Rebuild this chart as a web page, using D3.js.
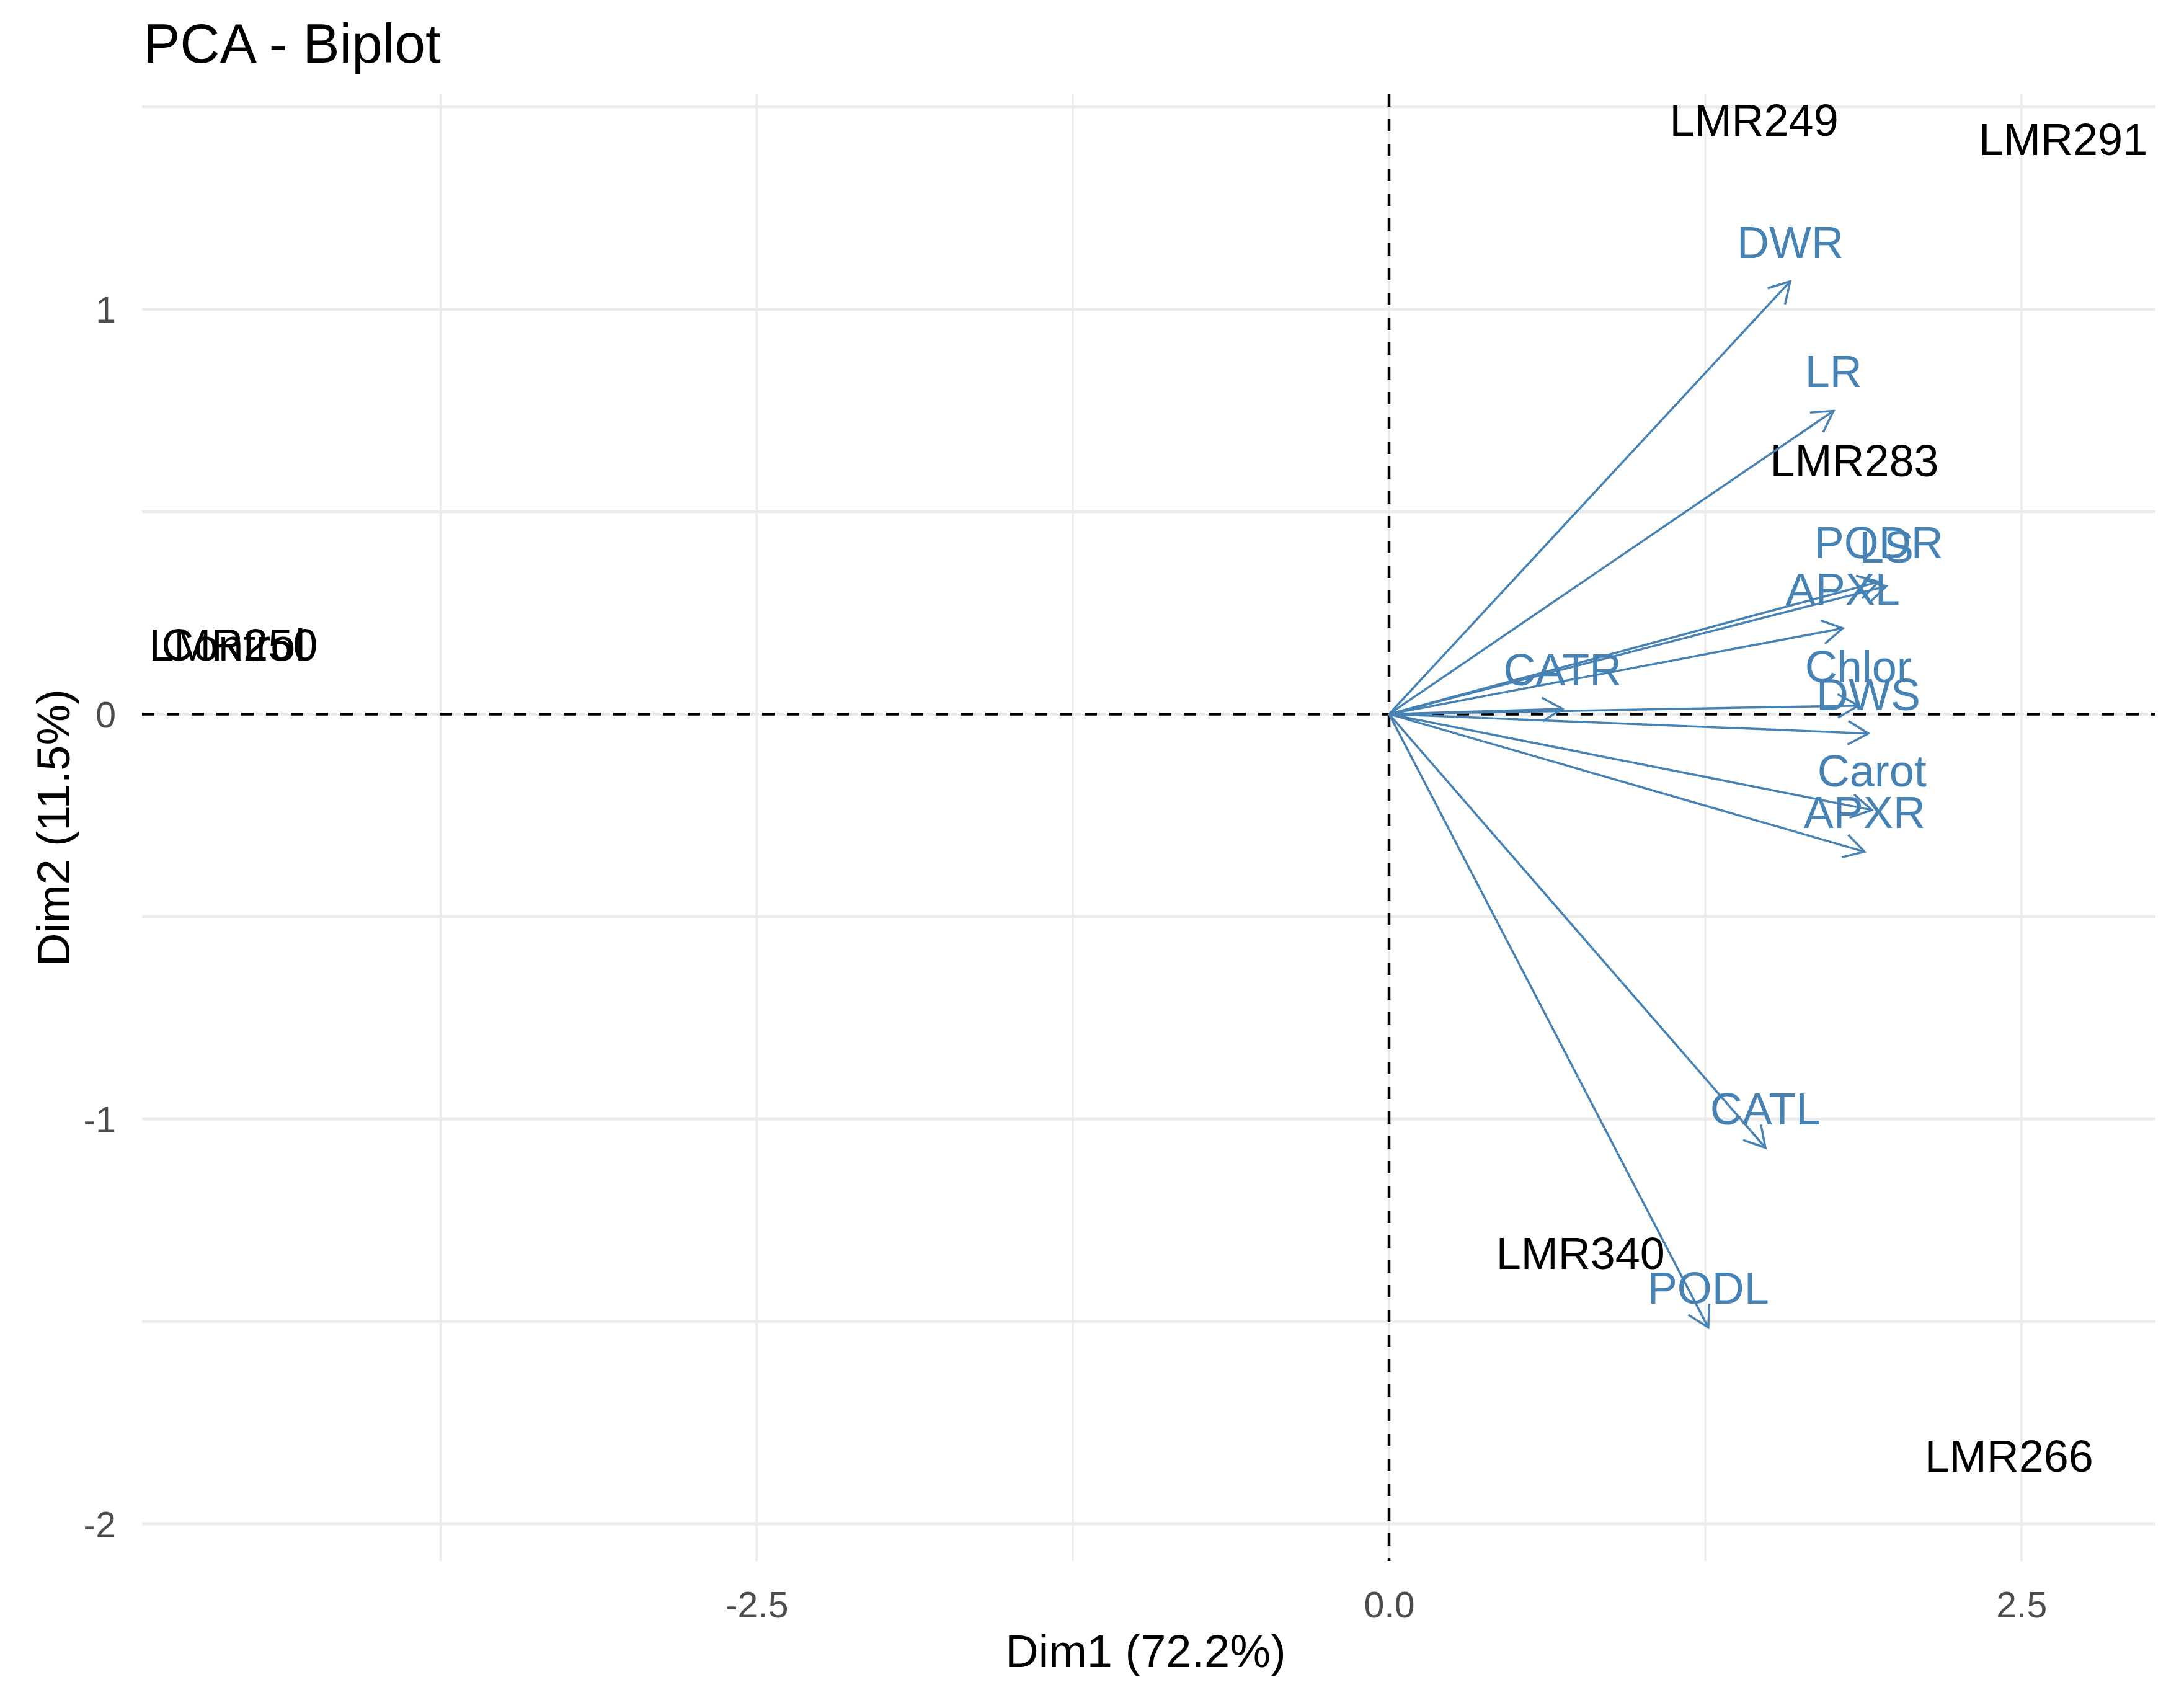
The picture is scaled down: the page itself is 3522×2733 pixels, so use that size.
<!DOCTYPE html>
<html>
<head>
<meta charset="utf-8">
<script src="https://cdn.jsdelivr.net/npm/d3@7"></script>
<style>
  html, body { margin: 0; padding: 0; background: #ffffff; }
  svg { display: block; }
  text { font-family: "Liberation Sans", Arial, Helvetica, sans-serif; }
</style>
</head>
<body>
<svg id="chart" width="3522" height="2733"></svg>
<script>
// ---------- data ----------
const indNames = ["LMR249", "LMR291", "LMR283", "LMR250", "Control", "LMR340", "LMR266"];
const indDim1  = [1.443, 2.665, 1.840, -4.569, -4.569, 0.757, 2.451];
const indDim2  = [1.370, 1.322, 0.529, 0.074, 0.074, -1.428, -1.929];

const varNames = ["DWR", "LR", "PODR", "LS", "APXL", "Chlor", "DWS", "Carot", "APXR", "CATR", "CATL", "PODL"];
const varDim1  = [1.586, 1.757, 1.936, 1.966, 1.794, 1.855, 1.895, 1.909, 1.880, 0.686, 1.488, 1.262];
const varDim2  = [1.069, 0.749, 0.327, 0.316, 0.212, 0.021, -0.048, -0.237, -0.340, 0.013, -1.071, -1.515];

const xTicks = [-2.5, 0, 2.5];
const xTickLabels = ["-2.5", "0.0", "2.5"];
const xMinor = [-3.75, -1.25, 1.25];
const yTicks = [-2, -1, 0, 1];
const yTickLabels = ["-2", "-1", "0", "1"];
const yMinor = [-1.5, -0.5, 0.5, 1.5];

const titleText = "PCA - Biplot";
const xTitle = "Dim1 (72.2%)";
const yTitle = "Dim2 (11.5%)";

// ---------- layout ----------
const panel = { left: 229, right: 3476, top: 152, bottom: 2517 };
const x = d3.scaleLinear().domain([-4.93, 3.03]).range([panel.left, panel.right]);
const y = d3.scaleLinear().domain([-2.092, 1.531]).range([panel.bottom, panel.top]);

const svg = d3.select("#chart");
svg.append("rect").attr("width", 3522).attr("height", 2733).attr("fill", "#ffffff");

const grid = svg.append("g");
const gridCol = "#EBEBEB";
// minor grid
grid.selectAll(".xminor").data(xMinor).join("line")
  .attr("x1", d => x(d)).attr("x2", d => x(d))
  .attr("y1", panel.top).attr("y2", panel.bottom)
  .attr("stroke", gridCol).attr("stroke-width", 3);
grid.selectAll(".yminor").data(yMinor).join("line")
  .attr("y1", d => y(d)).attr("y2", d => y(d))
  .attr("x1", panel.left).attr("x2", panel.right)
  .attr("stroke", gridCol).attr("stroke-width", 4.5);
// major grid
grid.selectAll(".xmajor").data(xTicks).join("line")
  .attr("x1", d => x(d)).attr("x2", d => x(d))
  .attr("y1", panel.top).attr("y2", panel.bottom)
  .attr("stroke", gridCol).attr("stroke-width", 3.5);
grid.selectAll(".ymajor").data(yTicks).join("line")
  .attr("y1", d => y(d)).attr("y2", d => y(d))
  .attr("x1", panel.left).attr("x2", panel.right)
  .attr("stroke", gridCol).attr("stroke-width", 5);

// axes (text only, theme_minimal)
const xAxis = d3.axisBottom(x).tickValues(xTicks)
  .tickFormat((d, i) => xTickLabels[i]).tickSize(0).tickPadding(0);
const gx = svg.append("g").attr("transform", `translate(0,${panel.bottom})`).call(xAxis);
gx.select(".domain").remove();
gx.selectAll("text").attr("font-size", 59).attr("fill", "#4D4D4D")
  .attr("dy", null).attr("y", 91)
  .attr("font-family", '"Liberation Sans", Arial, sans-serif');

const yAxis = d3.axisLeft(y).tickValues(yTicks)
  .tickFormat((d, i) => yTickLabels[i]).tickSize(0).tickPadding(0);
const gy = svg.append("g").attr("transform", `translate(${panel.left},0)`).call(yAxis);
gy.select(".domain").remove();
gy.selectAll("text").attr("font-size", 59).attr("fill", "#4D4D4D")
  .attr("x", -42).attr("dy", "0.36em")
  .attr("font-family", '"Liberation Sans", Arial, sans-serif');

// reference dashed lines
svg.append("line")
  .attr("x1", x(0)).attr("x2", x(0)).attr("y1", panel.top).attr("y2", panel.bottom)
  .attr("stroke", "#000").attr("stroke-width", 4.5).attr("stroke-dasharray", "20,20");
svg.append("line")
  .attr("y1", y(0)).attr("y2", y(0)).attr("x1", panel.left).attr("x2", panel.right)
  .attr("stroke", "#000").attr("stroke-width", 4.5).attr("stroke-dasharray", "20,20");

// individuals (text labels, vjust above point)
const labelSize = 72;
const labelLift = 38;
const inds = indNames.map((n, i) => ({ name: n, d1: indDim1[i], d2: indDim2[i] }));
svg.append("g").selectAll("text").data(inds).join("text")
  .attr("x", d => x(d.d1)).attr("y", d => y(d.d2) - labelLift)
  .attr("text-anchor", "middle").attr("font-size", labelSize).attr("fill", "#000000")
  .text(d => d.name);

// variables (arrows + labels)
const steel = "#4682B4";
const vars = varNames.map((n, i) => ({ name: n, d1: varDim1[i], d2: varDim2[i] }));
const vg = svg.append("g");
vg.selectAll("line").data(vars).join("line")
  .attr("x1", x(0)).attr("y1", y(0))
  .attr("x2", d => x(d.d1)).attr("y2", d => y(d.d2))
  .attr("stroke", steel).attr("stroke-width", 3.5);
const headLen = 38, headAng = Math.PI / 6;
vg.selectAll("path").data(vars).join("path")
  .attr("d", d => {
    const tx = x(d.d1), ty = y(d.d2);
    const a = Math.atan2(ty - y(0), tx - x(0));
    const p1 = [tx - headLen * Math.cos(a - headAng), ty - headLen * Math.sin(a - headAng)];
    const p2 = [tx - headLen * Math.cos(a + headAng), ty - headLen * Math.sin(a + headAng)];
    return `M${p1[0]},${p1[1]}L${tx},${ty}L${p2[0]},${p2[1]}`;
  })
  .attr("fill", "none").attr("stroke", steel).attr("stroke-width", 3.5)
  .attr("stroke-linejoin", "miter");
vg.selectAll("text").data(vars).join("text")
  .attr("x", d => x(d.d1)).attr("y", d => y(d.d2) - labelLift)
  .attr("text-anchor", "middle").attr("font-size", labelSize).attr("fill", steel)
  .text(d => d.name);

// titles
svg.append("text").attr("x", 231).attr("y", 101)
  .attr("font-size", 89).attr("fill", "#000").text(titleText);
svg.append("text").attr("x", (panel.left + panel.right) / 2 - 5).attr("y", 2688)
  .attr("text-anchor", "middle").attr("font-size", 74).attr("fill", "#000").text(xTitle);
svg.append("text")
  .attr("transform", `translate(112,${(panel.top + panel.bottom) / 2}) rotate(-90)`)
  .attr("text-anchor", "middle").attr("font-size", 74).attr("fill", "#000").text(yTitle);
</script>
</body>
</html>
